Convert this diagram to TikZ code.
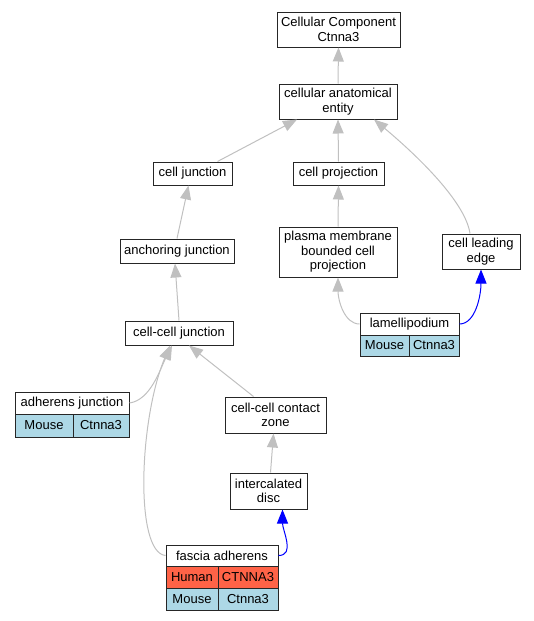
\documentclass[tikz,border=0pt]{standalone}
\usepackage{fontspec}
\setmainfont{Liberation Sans}
\usetikzlibrary{arrows.meta}
\definecolor{edgegray}{HTML}{C0C0C0}
\definecolor{mouseblue}{HTML}{ADD8E6}
\definecolor{humanred}{HTML}{FF6347}
\newcommand{\nf}{\fontsize{13pt}{14.5pt}\selectfont}
\begin{document}
\begin{tikzpicture}[x=1pt,y=1pt,
  box/.style={draw=black!85, line width=1pt, fill=white, align=center, inner sep=0pt, font=\nf},
  mcell/.style={box, fill=mouseblue},
  hcell/.style={box, fill=humanred},
  edge/.style={draw=edgegray, line width=1pt, -{Triangle[length=14pt,width=11pt]}},
  bedge/.style={edge, draw=blue}]
\useasboundingbox (0,0) rectangle (533,-621);
\node[box, minimum width=123pt, minimum height=35pt] (ccomp) at (338.5,-29.5) {Cellular Component\\Ctnna3};
\node[box, minimum width=118pt, minimum height=35pt] (cae) at (338,-101.5) {cellular anatomical\\entity};
\node[box, minimum width=79pt, minimum height=23pt] (cj) at (192.5,-173.5) {cell junction};
\node[box, minimum width=91pt, minimum height=23pt] (cp) at (338.5,-173.5) {cell projection};
\node[box, minimum width=114pt, minimum height=24pt] (aj) at (177,-251) {anchoring junction};
\node[box, minimum width=118pt, minimum height=50pt] (pm) at (338,-252) {plasma membrane\\bounded cell\\projection};
\node[box, minimum width=78pt, minimum height=35pt] (cle) at (481,-251.5) {cell leading\\edge};
\node[box, minimum width=108pt, minimum height=24pt] (ccj) at (179,-333) {cell-cell junction};
\node[box, minimum width=99pt, minimum height=22pt] (lam) at (409.5,-324) {lamellipodium};
\node[mcell, minimum width=49pt, minimum height=21pt] (lamM) at (384.5,-345.5) {Mouse};
\node[mcell, minimum width=50pt, minimum height=21pt] (lamC) at (434,-345.5) {Ctnna3};
\node[box, minimum width=114pt, minimum height=22pt] (adj) at (72,-403) {adherens junction};
\node[mcell, minimum width=58pt, minimum height=23pt] (adjM) at (44,-425.5) {Mouse};
\node[mcell, minimum width=56pt, minimum height=23pt] (adjC) at (101,-425.5) {Ctnna3};
\node[box, minimum width=101pt, minimum height=36pt] (cccz) at (275.5,-415) {cell-cell contact\\zone};
\node[box, minimum width=77pt, minimum height=36pt] (id) at (268.5,-491) {intercalated\\disc};
\node[box, minimum width=112pt, minimum height=21pt] (fa) at (222,-555.5) {fascia adherens};
\node[hcell, minimum width=52pt, minimum height=22pt] (faH1) at (192,-577) {Human};
\node[hcell, minimum width=60pt, minimum height=22pt] (faH2) at (248,-577) {CTNNA3};
\node[mcell, minimum width=52pt, minimum height=22pt] (faM1) at (192,-599) {Mouse};
\node[mcell, minimum width=60pt, minimum height=22pt] (faM2) at (248,-599) {Ctnna3};
% edges
\draw[edge] (cae.north) -- (ccomp.south);
\draw[edge] ([xshift=25pt]cj.north) -- ([xshift=-41pt]cae.south);
\draw[edge] (cp.north) -- (cae.south);
\draw[edge] ([xshift=-11pt]cle.north) .. controls +(-5,34) and +(36,-30) .. ([xshift=36pt]cae.south);
\draw[edge] (aj.north) -- ([xshift=-4pt]cj.south);
\draw[edge] (pm.north) -- (cp.south);
\draw[edge] (lam.west) .. controls +(-15,0) and +(0,-23) .. (pm.south);
\draw[bedge] (lam.east) .. controls +(16,0) and +(0,-26) .. (cle.south);
\draw[edge] (ccj.north) -- ([xshift=-2pt]aj.south);
\draw[edge] (adj.east) .. controls +(21,3) and +(-12,-24) .. ([xshift=-7pt]ccj.south);
\draw[edge] ([xshift=-22pt]cccz.north) -- ([xshift=10pt]ccj.south);
\draw[edge] ([xshift=2pt]id.north) -- ([xshift=-2pt]cccz.south);
\draw[bedge] (fa.east) .. controls +(17,0) and +(0,-21) .. ([xshift=14pt]id.south);
\draw[edge] (fa.west) .. controls +(-31,3) and +(-31,-74) .. ([xshift=-9pt]ccj.south);
\end{tikzpicture}
\end{document}
